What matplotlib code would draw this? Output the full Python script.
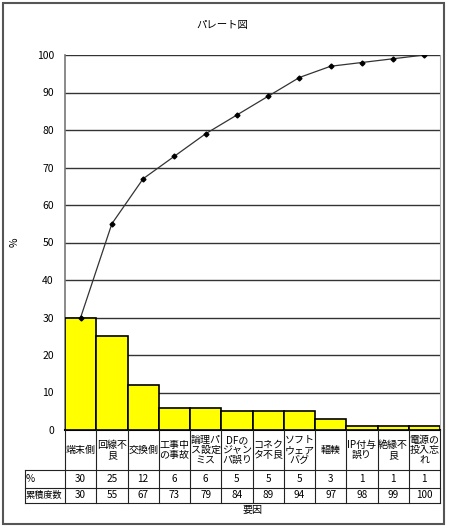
import matplotlib
matplotlib.use("Agg")
import matplotlib.pyplot as plt
from matplotlib.patches import Rectangle

plt.rcParams['font.family'] = ['Noto Sans CJK JP', 'DejaVu Sans']

categories = ["端末側", "回線不\n良", "交換側", "工事中\nの事故", "論理パ\nス設定\nミス",
              "DFの\nジャン\nパ誤り", "コネク\nタ不良", "ソフト\nウェア\nバグ", "輻輳",
              "IP付与\n誤り", "絶縁不\n良", "電源の\n投入忘\nれ"]
percent = [30, 25, 12, 6, 6, 5, 5, 5, 3, 1, 1, 1]
cumulative = [30, 55, 67, 73, 79, 84, 89, 94, 97, 98, 99, 100]
yticks = [0, 10, 20, 30, 40, 50, 60, 70, 80, 90, 100]
row_labels = ["%", "累積度数"]

W, H = 450, 529
fig = plt.figure(figsize=(W / 100, H / 100), dpi=100)
fig.patch.set_facecolor("white")

def fx(px):
    return px / W

def fy(py):
    return 1 - py / H

# plot area in pixels
L, R, T, B = 65, 440, 55, 430
ax = fig.add_axes([fx(L), fy(B), fx(R - L), (B - T) / H])
n = len(categories)
x = list(range(n))
ax.bar(x, percent, width=1.0, color="#ffff00", edgecolor="black", linewidth=1.2, zorder=3)
ax.plot(x, cumulative, color="#333333", linewidth=0.9, marker="D", markersize=2.5,
        markerfacecolor="black", markeredgecolor="black", zorder=4)
ax.set_xlim(-0.5, n - 0.5)
ax.set_ylim(0, 100)
ax.set_yticks(yticks)
ax.set_yticklabels([str(v) for v in yticks], fontsize=7.5)
ax.tick_params(axis="y", length=0, pad=8)
ax.set_xticks([])
ax.yaxis.grid(True, color="#333333", linewidth=1.0, zorder=0)
ax.set_axisbelow(True)
ax.spines["top"].set_visible(False)
ax.spines["right"].set_color("#aaaaaa")
ax.spines["left"].set_color("#777777")
ax.spines["left"].set_linewidth(1.2)
ax.spines["bottom"].set_color("black")
ax.spines["bottom"].set_linewidth(1.5)
fig.text(fx(15), fy(242), "%", rotation=90, ha="center", va="center", fontsize=7.5)
fig.text(fx(222), fy(25), "パレート図", ha="center", va="center", fontsize=7.5)

# table region
TL, H1, H2, TB = 25, 470, 488, 503
tax = fig.add_axes([fx(TL), fy(TB), fx(R - TL), (TB - B) / H])
tax.set_xlim(TL, R)
tax.set_ylim(TB, B)
tax.axis("off")
colw = (R - L) / n
lc = "#222222"
lw = 0.8
for yy in [H1, H2, TB]:
    tax.plot([TL, R], [yy, yy], color=lc, linewidth=lw, clip_on=False)
for i in range(n + 1):
    xx = L + i * colw
    tax.plot([xx, xx], [B, TB], color=lc, linewidth=lw, clip_on=False)
tax.plot([TL, TL], [H1, TB], color=lc, linewidth=lw, clip_on=False)
fs = 7.2
for i, c in enumerate(categories):
    cx = L + (i + 0.5) * colw
    tax.text(cx, (B + H1) / 2, c, ha="center", va="center", fontsize=fs, linespacing=1.0)
    tax.text(cx, (H1 + H2) / 2, str(percent[i]), ha="center", va="center", fontsize=fs)
    tax.text(cx, (H2 + TB) / 2, str(cumulative[i]), ha="center", va="center", fontsize=fs)
tax.text(TL + 1, (H1 + H2) / 2, row_labels[0], ha="left", va="center", fontsize=fs)
tax.text(TL + 0.5, (H2 + TB) / 2, row_labels[1], ha="left", va="center", fontsize=6.6)

fig.text(fx((L + R) / 2), fy(510), "要因", ha="center", va="center", fontsize=7.2)

fig.patches.append(Rectangle((fx(3), fy(524)), fx(441), (524 - 3) / H, transform=fig.transFigure,
                             fill=False, edgecolor="#555555", linewidth=1.5))

fig.savefig("out.png", dpi=100)
